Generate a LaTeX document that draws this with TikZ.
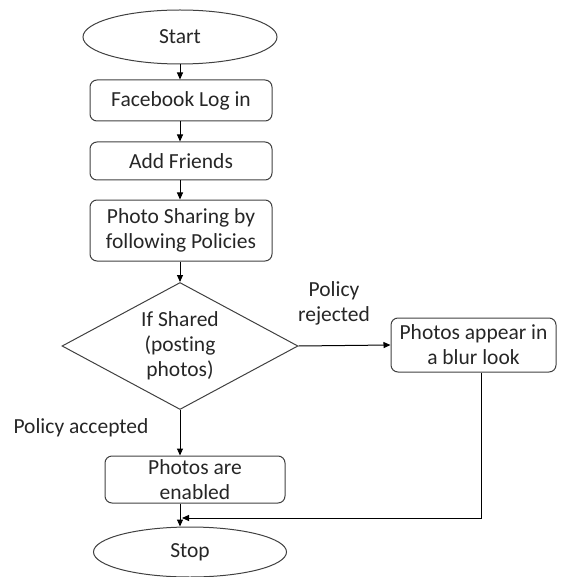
\documentclass[tikz,border=0pt]{standalone}
\usepackage{fontspec}
\setmainfont[Ligatures={NoCommon,NoRare}]{Carlito}
\usetikzlibrary{shapes.geometric,arrows.meta}
\begin{document}
\begin{tikzpicture}[x=1pt,y=-1pt,
  every node/.style={font=\fontsize{21.5}{25}\selectfont, text=black!85},
  proc/.style={draw=black!75, line width=1pt, rounded corners=7pt, align=center, inner sep=0pt},
  term/.style={draw=black!75, line width=1pt, ellipse, inner sep=0pt},
  dec/.style={draw=black!75, line width=1pt, diamond, inner sep=0pt},
  lbl/.style={align=center, inner sep=0pt},
  conn/.style={draw=black, line width=1pt, -{Triangle[length=7pt,width=6pt]}}]
\useasboundingbox (0,0) rectangle (561,577);
\node[term, minimum width=194pt, minimum height=54pt] (start) at (180,37) {Start};
\node[proc, minimum width=182pt, minimum height=41pt] (fb) at (181,100.5) {Facebook Log in};
\node[proc, minimum width=182pt, minimum height=38pt] (add) at (181,161) {Add Friends};
\node[proc, minimum width=182pt, minimum height=61pt] (share) at (181,230.5) {Photo Sharing by\\following Policies};
\node[dec, minimum width=236pt, minimum height=127pt] (dia) at (180,346) {};
\node[lbl] (diat) at (dia.center) {If Shared\\(post\kern0pt ing\\photos)};
\node[proc, minimum width=165pt, minimum height=54pt] (blur) at (473.5,345) {Photos appear in\\a blur look};
\node[proc, minimum width=180pt, minimum height=47pt] (en) at (195,479.5) {Photos are\\enabled};
\node[term, minimum width=193pt, minimum height=50pt] (stop) at (190,552) {Stop};
\node[lbl] (rej) at (334,303) {Policy\\rejected};
\node[lbl] (acc) at (81,428) {Policy accepted};
\coordinate (j) at (182,518);
\draw[conn] (start.south -| 180,0) -- (180,0 |- fb.north);
\draw[conn] (180,0 |- fb.south) -- (180,0 |- add.north);
\draw[conn] (180,0 |- add.south) -- (180,0 |- share.north);
\draw[conn] (180,0 |- share.south) -- (dia.north);
\draw[conn] (dia.east) -- (blur.west);
\draw[conn] (dia.south) -- (dia.south |- en.north);
\draw[conn] (dia.south |- en.south) -- (dia.south |- stop.north);
\draw[conn] ([xshift=8pt]blur.south) |- (j);
\end{tikzpicture}
\end{document}
